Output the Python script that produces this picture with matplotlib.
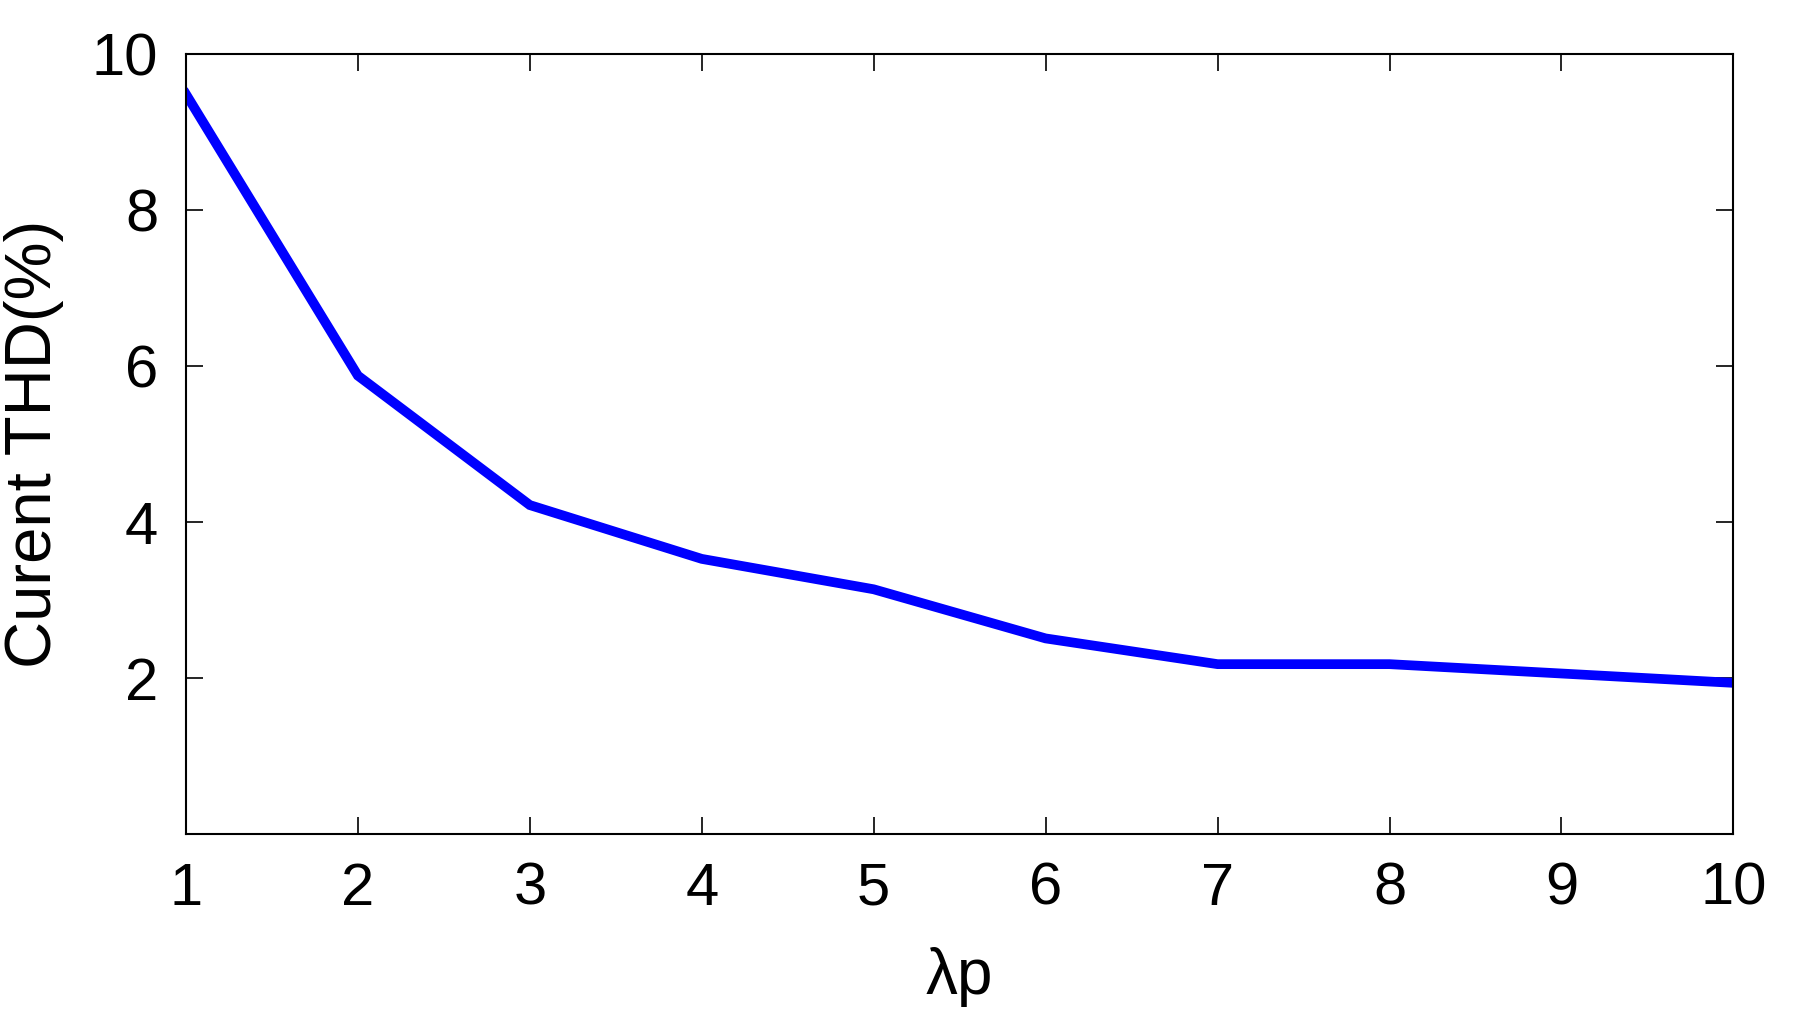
import matplotlib
matplotlib.use('Agg')
import matplotlib.pyplot as plt

# Current THD vs lambda_p
lam_p = [1, 2, 3, 4, 5, 6, 7, 8, 9, 10]
thd = [9.49, 5.88, 4.22, 3.53, 3.14, 2.51, 2.18, 2.18, 2.06, 1.94]
x_ticks = [1, 2, 3, 4, 5, 6, 7, 8, 9, 10]
y_ticks = [2, 4, 6, 8, 10]

plt.rcParams['font.family'] = ['Liberation Sans', 'DejaVu Sans']

fig = plt.figure(figsize=(18, 10.26), dpi=100)
ax = fig.add_axes([0.1033, 0.187, 0.8597, 0.76])
ax.plot(lam_p, thd, color='#0000ff', linewidth=7, solid_joinstyle='miter')

ax.set_xlim(1, 10)
ax.set_ylim(0, 10)
ax.set_xticks(x_ticks)
ax.set_yticks(y_ticks)
ax.tick_params(direction='in', length=12, width=1.2, top=True, right=True,
               labelsize=43, pad=20)
for s in ax.spines.values():
    s.set_linewidth(1.5)

ax.set_xlabel('\u03bbp', fontsize=46, labelpad=22)
ax.set_ylabel('Curent THD(%)', fontsize=47, labelpad=20)

fig.savefig('out.png', dpi=100)
